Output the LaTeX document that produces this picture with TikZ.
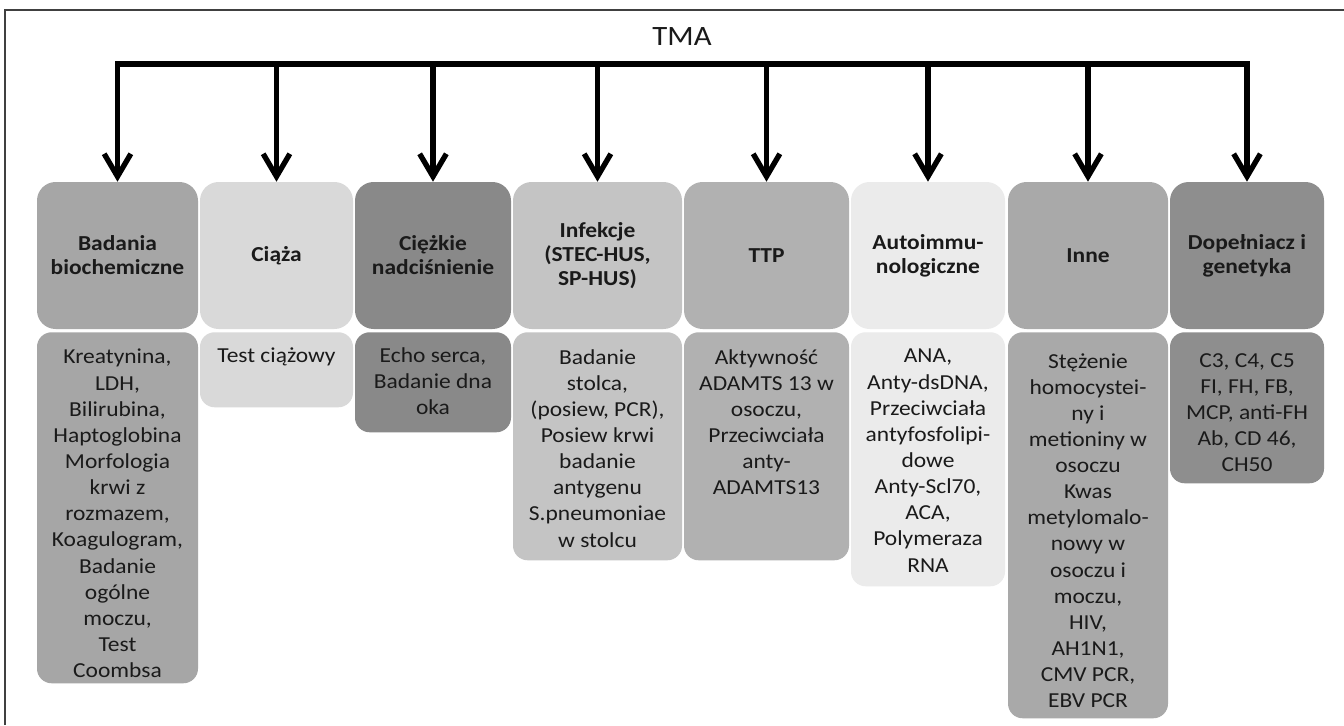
\documentclass[tikz,border=0pt]{standalone}
\usepackage{fontspec}
\setmainfont{Carlito}[FakeStretch=1.1]
\usetikzlibrary{arrows.meta}
\definecolor{txt}{HTML}{1A1A1A}
\definecolor{cBio}{HTML}{A6A6A6}
\definecolor{cCia}{HTML}{D9D9D9}
\definecolor{cNad}{HTML}{898989}
\definecolor{cInf}{HTML}{C4C4C4}
\definecolor{cTtp}{HTML}{B1B1B1}
\definecolor{cAut}{HTML}{EBEBEB}
\definecolor{cInn}{HTML}{A9A9A9}
\definecolor{cDop}{HTML}{8E8E8E}
\begin{document}
\begin{tikzpicture}[x=0.75pt,y=-0.75pt,
  hbox/.style={rounded corners=14pt, inner sep=0pt, minimum height=110.25pt,
    align=center, text=txt, font=\bfseries\fontsize{16}{18}\selectfont},
  lbox/.style={rounded corners=11pt, inner sep=0pt, anchor=north},
  ltext/.style={anchor=north, inner sep=0pt, align=center, text=txt,
    font=\fontsize{16}{19.6}\selectfont},
  barb/.tip={Straight Barb[length=17pt,width=20pt,line width=4pt]},
  link/.style={line width=4.2pt, line join=miter, barb-barb},
  drop/.style={line width=4.2pt, -barb}]
\useasboundingbox (0,0) rectangle (1344,725);
\fill[white] (0,0) rectangle (1344,725);
% frame
\draw[line width=1pt, black!75] (5,725) -- (5,10) -- (1344,10);

% title
\node[font=\fontsize{21}{24}\selectfont, text=txt] (tma) at (682,37) {TMA};

% category headers
\node[hbox, fill=cBio, minimum width=120.75pt] (h1) at (117.5,255.5) {Badania\\biochemiczne};
\node[hbox, fill=cCia, minimum width=114.75pt] (h2) at (276.5,255.5) {Ciąża};
\node[hbox, fill=cNad, minimum width=117pt]    (h3) at (433,255.5)   {Ciężkie\\nadciśnienie};
\node[hbox, fill=cInf, minimum width=126.75pt] (h4) at (597.5,255.5) {Infekcje\\(STEC-HUS,\\SP-HUS)};
\node[hbox, fill=cTtp, minimum width=123.75pt] (h5) at (766.5,255.5) {TTP};
\node[hbox, fill=cAut, minimum width=115.5pt]  (h6) at (928,255.5)   {Autoimmu-\\nologiczne};
\node[hbox, fill=cInn, minimum width=120pt]    (h7) at (1088,255.5)  {Inne};
\node[hbox, fill=cDop, minimum width=115.5pt]  (h8) at (1247,255.5)  {Dopełniacz i\\genetyka};

% detail boxes
\node[lbox, fill=cBio, minimum width=120.75pt, minimum height=263.25pt] (l1) at (117.5,332) {};
\node[lbox, fill=cCia, minimum width=114.75pt, minimum height=56.25pt]  (l2) at (276.5,332) {};
\node[lbox, fill=cNad, minimum width=117pt,    minimum height=75pt]     (l3) at (433,332) {};
\node[lbox, fill=cInf, minimum width=126.75pt, minimum height=171pt]    (l4) at (597.5,332) {};
\node[lbox, fill=cTtp, minimum width=123.75pt, minimum height=171pt]    (l5) at (766.5,332) {};
\node[lbox, fill=cAut, minimum width=115.5pt,  minimum height=190.5pt]  (l6) at (928,332) {};
\node[lbox, fill=cInn, minimum width=120pt,    minimum height=289.5pt]  (l7) at (1088,332) {};
\node[lbox, fill=cDop, minimum width=115.5pt,  minimum height=113.25pt] (l8) at (1247,332) {};

% detail texts
\node[ltext] (t1) at (117.5,349) {Kreatynina,\\LDH,\\Bilirubina,\\Haptoglobina\\Morfologia\\krwi z\\rozmazem,\\Koagulogram,\\Badanie\\ogólne\\moczu,\\Test\\Coombsa};
\node[ltext] (t2) at (276.5,347) {Test ciążowy};
\node[ltext] (t3) at (433,347) {Echo serca,\\Badanie dna\\oka};
\node[ltext] (t4) at (597.5,349) {Badanie\\stolca,\\(posiew, PCR),\\Posiew krwi\\badanie\\antygenu\\S.pneumoniae\\w stolcu};
\node[ltext] (t5) at (766.5,349) {Aktywność\\ADAMTS 13 w\\osoczu,\\Przeciwciała\\anty-\\ADAMTS13};
\node[ltext] (t6) at (928,349) {ANA,\\Anty-dsDNA,\\Przeciwciała\\antyfosfolipi-\\dowe\\Anty-Scl70,\\ACA,\\Polymeraza\\RNA};
\node[ltext] (t7) at (1088,353) {Stężenie\\homocystei-\\ny i\\metioniny w\\osoczu\\Kwas\\metylomalo-\\nowy w\\osoczu i\\moczu,\\HIV,\\AH1N1,\\CMV PCR,\\EBV PCR};
\node[ltext] (t8) at (1247,353) {C3, C4, C5\\FI, FH, FB,\\MCP, anti-FH\\Ab, CD 46,\\CH50};

% branching connectors
\coordinate (bar) at (682,64);
\draw[link] (h1.north) -- (h1.north |- bar) -- (h8.north |- bar) -- (h8.north);
\foreach \i in {2,...,7}
  \draw[drop] (h\i.north |- bar) -- (h\i.north);
\end{tikzpicture}
\end{document}
